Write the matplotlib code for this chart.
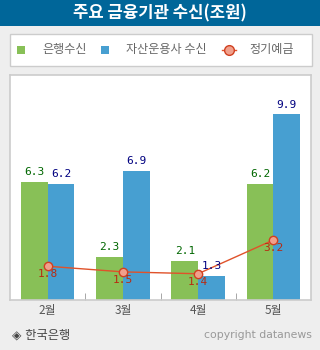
import matplotlib.pyplot as plt
import numpy as np
from matplotlib.patches import Rectangle
from matplotlib.lines import Line2D

plt.rcParams['font.family'] = ['Noto Sans CJK KR', 'DejaVu Sans']

months = ['2월', '3월', '4월', '5월']
bank = [6.3, 2.3, 2.1, 6.2]
asset = [6.2, 6.9, 1.3, 9.9]
deposit = [1.8, 1.5, 1.4, 3.2]

green = '#88c057'
blue = '#479fd1'
red = '#e0522a'

fig = plt.figure(figsize=(3.2, 3.5), dpi=100)
fig.patch.set_facecolor('#eeeeee')

# title bar
fig.patches.append(Rectangle((0, 1 - 26 / 350), 1, 26 / 350, transform=fig.transFigure,
                             facecolor='#006699', edgecolor='none', zorder=0))
fig.text(0.5, 1 - 13 / 350, '주요 금융기관 수신(조원)', color='white', ha='center', va='center',
         fontsize=12, fontweight='bold')

# legend box
fig.patches.append(Rectangle((10 / 320, 1 - 66 / 350), 302 / 320, 32 / 350, transform=fig.transFigure,
                             facecolor='white', edgecolor='#cccccc', lw=1, zorder=0))
ly = 1 - 50 / 350
fig.patches.append(Rectangle((17 / 320, ly - 4 / 350), 8 / 320, 8 / 350, transform=fig.transFigure,
                             facecolor=green, edgecolor='none'))
fig.text(42 / 320, ly, '은행수신', color='#666666', va='center', fontsize=8.7)
fig.patches.append(Rectangle((101 / 320, ly - 4 / 350), 8 / 320, 8 / 350, transform=fig.transFigure,
                             facecolor=blue, edgecolor='none'))
fig.text(126 / 320, ly, '자산운용사 수신', color='#666666', va='center', fontsize=8.7)
fig.lines.append(Line2D([222 / 320, 236 / 320], [ly, ly], transform=fig.transFigure, color=red, lw=1))
fig.lines.append(Line2D([229 / 320], [ly], transform=fig.transFigure, marker='o', markersize=7,
                        markerfacecolor='#f0a08c', markeredgecolor='#d04020', lw=0))
fig.text(249 / 320, ly, '정기예금', color='#666666', va='center', fontsize=8.7)

ax = fig.add_axes([10 / 320, 50 / 350, 301 / 320, 225 / 350])
ax.set_facecolor('white')
x = np.arange(len(months))
w = 0.355
ax.bar(x - w / 2, bank, w, color=green, zorder=2)
ax.bar(x + w / 2, asset, w, color=blue, zorder=2)
ax.plot(x, deposit, color=red, lw=1, marker='o', markersize=6,
        markerfacecolor='#f0a08c', markeredgecolor='#d04020', zorder=3)

for i in range(len(months)):
    ax.text(x[i] - w / 2, bank[i] + 0.25, f'{bank[i]:.1f}', ha='center', va='bottom',
            color='#006600', fontsize=8, family='DejaVu Sans Mono')
    ax.text(x[i] + w / 2, asset[i] + 0.25, f'{asset[i]:.1f}', ha='center', va='bottom',
            color='#000080', fontsize=8, family='DejaVu Sans Mono')
    ax.text(x[i], deposit[i] - 0.15, f'{deposit[i]:.1f}', ha='center', va='top',
            color='#b82a10', fontsize=8, family='DejaVu Sans Mono', zorder=4)

ax.set_xlim(-0.5, 3.5)
ax.set_ylim(0, 12)
ax.set_xticks(x)
ax.set_xticklabels(months, color='#555555', fontsize=8.5)
ax.set_xticks([0.5, 1.5, 2.5], minor=True)
ax.tick_params(axis='x', which='major', length=0, pad=3)
ax.tick_params(axis='x', which='minor', direction='in', length=5, color='#999999')
ax.set_yticks([])
for s in ax.spines.values():
    s.set_color('#cccccc')
    s.set_linewidth(1.2)

fig.text(12 / 320, 1 - 335 / 350, '◈ 한국은행', color='#444444', va='center', fontsize=8.8,
         family=['DejaVu Sans', 'Noto Sans CJK KR'])
fig.text(312 / 320, 1 - 335 / 350, 'copyright datanews', color='#999999', va='center', ha='right',
         fontsize=7.8, family='DejaVu Sans')

fig.savefig('out.png', dpi=100, facecolor=fig.get_facecolor())
